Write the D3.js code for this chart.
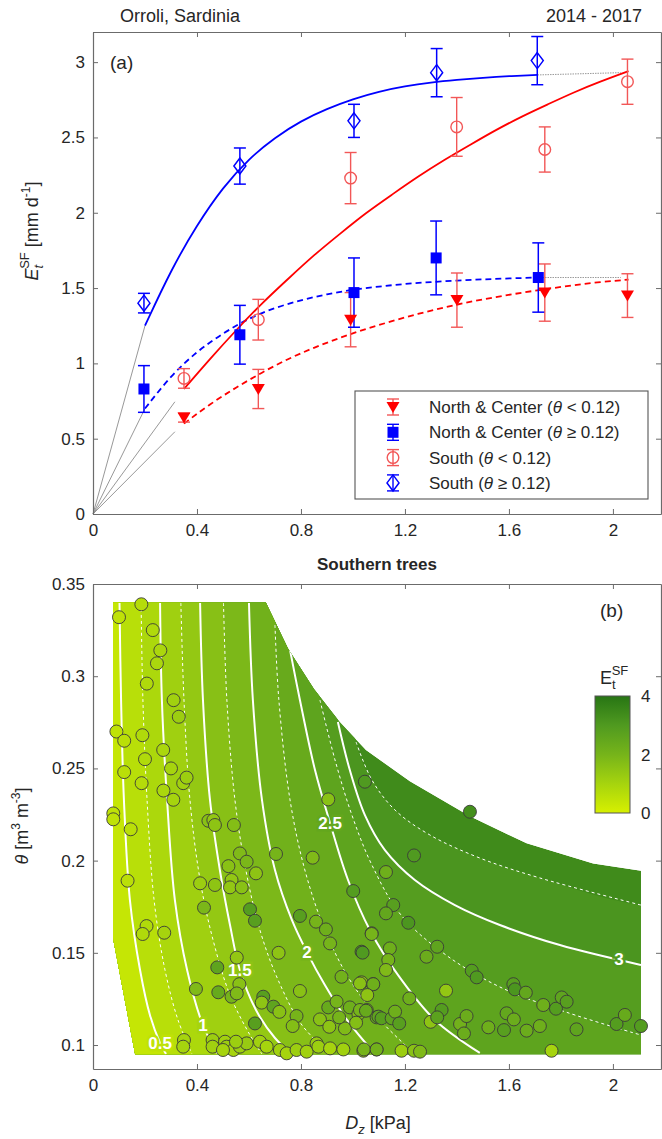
<!DOCTYPE html>
<html>
<head>
<meta charset="utf-8">
<script src="https://cdn.jsdelivr.net/npm/d3@7"></script>
<style>
body { margin: 0; background: #fff; }
svg text { font-family: "Liberation Sans", Arial, sans-serif; fill: #262626; }
</style>
</head>
<body>
<div id="chart"></div>
<script>
// ---------- panel (a): measured sap flow, Southern trees ----------
var ncLowD   = [0.35, 0.636, 0.991, 1.40, 1.738, 2.056];      // North & Center, theta < 0.12
var ncLowE   = [0.64, 0.83, 1.29, 1.42, 1.47, 1.45];
var ncLowErr = [0.03, 0.13, 0.18, 0.18, 0.19, 0.145];

var ncHighD   = [0.196, 0.565, 1.004, 1.32, 1.713];           // North & Center, theta >= 0.12
var ncHighE   = [0.83, 1.19, 1.47, 1.70, 1.57];
var ncHighErr = [0.155, 0.195, 0.23, 0.245, 0.23];

var soLowD   = [0.35, 0.636, 0.991, 1.399, 1.738, 2.056];     // South, theta < 0.12
var soLowE   = [0.90, 1.29, 2.23, 2.57, 2.42, 2.87];
var soLowErr = [0.065, 0.135, 0.17, 0.195, 0.15, 0.15];

var soHighD   = [0.196, 0.565, 1.004, 1.322, 1.709];          // South, theta >= 0.12
var soHighE   = [1.40, 2.31, 2.61, 2.93, 3.01];
var soHighErr = [0.065, 0.12, 0.11, 0.16, 0.16];

// fitted curves [D, E]
var fitSoHigh = [[0.2,1.25],[0.3,1.62],[0.4,1.92],[0.5,2.17],[0.6,2.36],[0.7,2.50],[0.8,2.61],[0.9,2.69],
  [1.0,2.755],[1.1,2.805],[1.2,2.84],[1.3,2.865],[1.4,2.882],[1.5,2.896],[1.6,2.907],[1.71,2.915]];
var fitNcHigh = [[0.2,0.70],[0.3,0.92],[0.4,1.08],[0.5,1.20],[0.6,1.30],[0.7,1.37],[0.8,1.42],[0.9,1.46],
  [1.0,1.49],[1.1,1.51],[1.2,1.528],[1.3,1.54],[1.4,1.55],[1.5,1.558],[1.6,1.564],[1.71,1.57]];
var fitSoLow = [[0.35,0.83],[0.45,1.03],[0.55,1.22],[0.65,1.40],[0.75,1.56],[0.85,1.72],[0.95,1.86],[1.05,2.00],
  [1.15,2.12],[1.25,2.24],[1.35,2.35],[1.45,2.45],[1.55,2.55],[1.65,2.64],[1.75,2.72],[1.85,2.80],[1.95,2.87],[2.06,2.94]];
var fitNcLow = [[0.35,0.60],[0.45,0.73],[0.55,0.84],[0.65,0.94],[0.75,1.03],[0.85,1.105],[0.95,1.17],[1.05,1.23],
  [1.15,1.28],[1.25,1.33],[1.35,1.37],[1.45,1.41],[1.55,1.44],[1.65,1.47],[1.75,1.495],[1.85,1.52],[1.95,1.54],[2.06,1.556]];
// grey extensions: from origin to the start of each fit, and flat tails
var originEnds = [[0.2,1.25],[0.2,0.70],[0.315,0.745],[0.315,0.546]];
var tailLines  = [[[1.71,2.915],[2.03,2.93]], [[1.71,1.57],[2.03,1.57]]];

var xTicks = [0, 0.4, 0.8, 1.2, 1.6, 2];
var xTickLabels = ["0", "0.4", "0.8", "1.2", "1.6", "2"];
var yTicksA = [0, 0.5, 1, 1.5, 2, 2.5, 3];
var yTickLabelsA = ["0", "0.5", "1", "1.5", "2", "2.5", "3"];

// ---------- panel (b): modelled E_t^SF field and observations ----------
var yTicksB = [0.1, 0.15, 0.2, 0.25, 0.3, 0.35];
var yTickLabelsB = ["0.1", "0.15", "0.2", "0.25", "0.3", "0.35"];
var cbTicks = [0, 2, 4];

var fieldEdge = [[0.077,0.34],[0.665,0.34],[0.75,0.315],[0.85,0.293],[0.95,0.275],[1.05,0.26],[1.219,0.243],
  [1.45,0.224],[1.668,0.2094],[1.924,0.1985],[2.108,0.1945],[2.108,0.095],[0.162,0.095],[0.077,0.158]];

// contour lines [D, theta], from the upper edge down to the bottom or right edge
var contourLevels = [0.5, 0.75, 1, 1.25, 1.5, 1.75, 2, 2.25, 2.5, 2.75, 3, 3.25];
var contourLines = [
  [[0.102,0.3397],[0.108,0.2871],[0.119,0.2329],[0.142,0.1786],[0.181,0.1407],[0.219,0.1163],[0.258,0.1011],[0.281,0.0951]],
  [[0.185,0.3397],[0.192,0.2871],[0.208,0.2329],[0.235,0.1786],[0.277,0.1407],[0.327,0.1136],[0.381,0.0951]],
  [[0.258,0.3397],[0.265,0.2871],[0.285,0.2329],[0.315,0.1786],[0.362,0.1407],[0.423,0.1108],[0.481,0.0951]],
  [[0.338,0.3397],[0.35,0.2871],[0.373,0.2329],[0.412,0.1895],[0.462,0.1569],[0.527,0.1271],[0.604,0.1054],[0.65,0.0951]],
  [[0.412,0.3397],[0.423,0.2871],[0.45,0.2329],[0.488,0.1949],[0.527,0.1651],[0.565,0.1407],[0.627,0.119],[0.70,0.1038],[0.765,0.0951]],
  [[0.502,0.3397],[0.515,0.2871],[0.546,0.2329],[0.588,0.1949],[0.642,0.1624],[0.712,0.1353],[0.804,0.1108],[0.912,0.0951]],
  [[0.60,0.3397],[0.615,0.2871],[0.65,0.2329],[0.70,0.1949],[0.765,0.1678],[0.823,0.1504],[0.892,0.1325],[0.977,0.1136],[1.085,0.0951]],
  [[0.70,0.3278],[0.715,0.2871],[0.758,0.2329],[0.815,0.1949],[0.892,0.1624],[0.988,0.1353],[1.104,0.1136],[1.238,0.0951]],
  [[0.758,0.3142],[0.796,0.2871],[0.854,0.2491],[0.912,0.2204],[0.981,0.1895],[1.065,0.1624],[1.173,0.138],[1.315,0.1136],[1.488,0.0957]],
  [[0.873,0.2871],[0.931,0.2546],[0.996,0.2247],[1.073,0.1976],[1.185,0.1705],[1.358,0.1488],[1.565,0.1315],[1.819,0.1179],[2.108,0.1054]],
  [[0.942,0.2752],[0.988,0.2491],[1.046,0.2247],[1.123,0.2057],[1.238,0.1895],[1.392,0.1759],[1.565,0.1651],[1.796,0.1542],[2.108,0.1434]],
  [[1.012,0.2643],[1.073,0.2437],[1.162,0.2274],[1.296,0.2139],[1.488,0.2014],[1.719,0.1906],[2.108,0.1759]]
];
var contourLabelText  = ["0.5", "1", "1.5", "2", "2.5", "3"];
var contourLabelLevel = [0.5, 1, 1.5, 2, 2.5, 3];
var contourLabelD     = [0.258, 0.423, 0.565, 0.823, 0.912, 2.023];
var contourLabelTheta = [0.1011, 0.1108, 0.1407, 0.1504, 0.2204, 0.1466];

var obsD = [0.187,0.271,0.309,0.347,0.078,0.078,0.145,0.444,0.463,0.469,0.542,0.905,1.046,0.565,0.591,0.521,0.627,0.704,0.845,
  0.133,0.412,0.469,0.533,0.527,0.572,1.001,0.427,0.604,0.623,0.796,0.858,0.896,0.912,1.072,1.033,0.206,0.191,0.274,0.714,
  0.553,0.478,0.956,0.563,1.033,1.078,0.396,0.482,0.533,0.553,0.655,0.649,0.694,0.717,0.796,0.783,0.768,0.873,0.905,0.909,
  0.937,0.969,0.947,0.988,1.021,1.012,1.053,1.091,0.623,0.35,0.347,0.46,0.508,0.514,0.54,0.565,0.591,0.642,0.668,0.719,
  0.745,0.783,0.822,0.86,0.867,0.912,0.963,1.04,1.091,0.46,0.50,0.55,
  1.45,1.235,1.127,1.155,1.127,1.213,1.072,1.037,1.142,1.136,1.127,1.283,1.324,1.027,1.078,1.055,1.217,1.358,1.457,1.476,
  1.617,1.623,1.665,1.732,1.781,1.803,1.822,1.027,1.05,1.098,1.11,1.149,1.162,1.178,1.299,1.341,1.324,1.412,1.437,1.427,
  1.521,1.591,1.581,1.619,1.668,1.719,1.86,2.014,2.046,2.108,1.042,1.091,1.187,1.235,1.258,1.764,
  0.1,0.186,0.23,0.259,0.246,0.207,0.09,0.12,0.19,0.2,0.31,0.33,0.27,0.3,0.36,0.12];
var obsTheta = [0.242,0.238,0.233,0.242,0.2256,0.2224,0.217,0.2216,0.222,0.2193,0.2193,0.2332,0.2428,0.2039,0.1994,0.197,0.1931,0.2036,0.2016,
  0.1891,0.1877,0.1868,0.1895,0.1855,0.1855,0.1835,0.1745,0.1736,0.1674,0.17,0.1669,0.1627,0.1551,0.1606,0.1506,0.1645,0.1602,0.1609,0.15,
  0.1474,0.1421,0.137,0.133,0.134,0.133,0.1304,0.1286,0.1262,0.128,0.1262,0.123,0.1208,0.118,0.1293,0.1157,0.1103,0.1139,0.1204,0.1099,
  0.1235,0.109,0.115,0.1204,0.1168,0.1121,0.119,0.115,0.1117,0.1027,0.0991,0.1027,0.1018,0.0991,0.0973,0.0991,0.1009,0.1018,0.0991,0.0973,
  0.0955,0.0973,0.0964,0.1009,0.0991,0.0982,0.0976,0.0969,0.0976,0.0991,0.0973,0.1018,
  0.2265,0.2028,0.1938,0.1759,0.1714,0.1663,0.1602,0.1501,0.1524,0.1461,0.1407,0.1479,0.1533,0.1334,0.133,0.1271,0.1253,0.1295,0.1403,0.1367,
  0.133,0.1302,0.1284,0.1217,0.1197,0.1258,0.1235,0.119,0.1186,0.1154,0.1145,0.1145,0.1181,0.1117,0.1126,0.119,0.115,0.1114,0.1157,0.1063,
  0.1096,0.1172,0.1081,0.1139,0.1078,0.1103,0.1085,0.1114,0.1163,0.1103,0.0976,0.0976,0.0969,0.0969,0.0964,0.0969,
  0.332,0.339,0.325,0.314,0.307,0.296,0.27,0.265,0.268,0.255,0.287,0.278,0.26,0.25,0.245,0.248];
var obsEt = [0.7,0.9,1.0,1.1,0.5,0.5,0.6,1.6,1.4,1.5,1.7,1.6,3.0,1.8,1.9,1.6,1.5,2.0,1.8,
  0.6,1.2,1.5,1.4,1.4,1.6,2.9,1.9,2.9,2.8,2.8,2.0,2.2,2.0,2.0,2.9,0.8,0.8,1.0,1.5,
  1.4,2.6,2.1,1.6,1.5,2.2,1.8,2.4,2.0,1.8,2.8,1.5,2.6,1.6,1.6,2.0,1.7,1.6,2.4,1.5,
  2.0,1.8,2.0,2.2,1.8,1.7,2.0,2.4,2.8,1.0,1.0,1.2,1.1,1.2,1.0,1.2,1.3,1.1,1.0,1.1,
  1.0,1.2,1.1,1.3,1.2,1.0,1.1,1.4,1.5,1.1,1.0,1.2,
  3.3,3.0,2.2,2.8,2.5,3.1,2.0,3.0,2.2,2.0,1.8,2.3,2.6,1.6,2.2,1.5,2.2,1.4,2.9,3.0,
  2.8,3.1,2.5,2.2,2.9,2.6,2.8,2.0,2.4,2.6,2.8,2.6,2.2,2.8,1.5,2.9,2.7,2.1,2.3,2.3,
  2.2,2.5,2.8,2.3,2.3,2.2,2.6,2.9,2.4,2.9,2.0,2.1,1.2,1.6,1.8,1.0,
  0.5,0.7,0.8,0.9,0.9,0.8,0.5,0.6,0.8,0.8,1.1,1.2,0.9,1.0,1.2,0.6];

// ---------- drawing ----------
var W = 662, H = 1139;
var svg = d3.select("#chart").append("svg").attr("width", W).attr("height", H);

var RED = "#ff0000", RED_LIGHT = "#f25757", BLUE = "#0000ff", AXIS = "#6b6b6b";

var xA = d3.scaleLinear().domain([0, 2.185]).range([93, 661]);
var yA = d3.scaleLinear().domain([0, 3.2]).range([514, 32]);
var xB = d3.scaleLinear().domain([0, 2.185]).range([93, 661]);
var yB = d3.scaleLinear().domain([0.087, 0.35]).range([1069, 584]);

function drawFrame(g, xs, ys, yT, yL, yPad) {
  var x0 = xs.range()[0], x1 = xs.range()[1], yb = ys.range()[0], yt = ys.range()[1];
  g.append("g").attr("transform", "translate(0," + yb + ")")
    .call(d3.axisBottom(xs).tickValues(xTicks).tickSizeInner(-5).tickSizeOuter(0).tickPadding(10)
      .tickFormat(function (d, i) { return xTickLabels[i]; }));
  g.append("g").attr("transform", "translate(0," + yt + ")")
    .call(d3.axisTop(xs).tickValues(xTicks).tickSizeInner(-5).tickSizeOuter(0).tickFormat(""));
  g.append("g").attr("transform", "translate(" + x0 + ",0)")
    .call(d3.axisLeft(ys).tickValues(yT).tickSizeInner(-5).tickSizeOuter(0).tickPadding(yPad)
      .tickFormat(function (d, i) { return yL[i]; }));
  g.append("g").attr("transform", "translate(" + x1 + ",0)")
    .call(d3.axisRight(ys).tickValues(yT).tickSizeInner(-5).tickSizeOuter(0).tickFormat(""));
  g.selectAll(".domain").attr("stroke", AXIS).attr("stroke-width", 1.2);
  g.selectAll(".tick line").attr("stroke", AXIS).attr("stroke-width", 1);
  g.selectAll(".tick text").attr("font-size", 17).attr("fill", "#262626")
    .attr("font-family", "Liberation Sans, Arial, sans-serif");
}

// ===== panel (a) =====
var gA = svg.append("g");

svg.append("text").attr("x", 120).attr("y", 22).attr("font-size", 18).text("Orroli, Sardinia");
svg.append("text").attr("x", 642).attr("y", 22).attr("font-size", 18).attr("text-anchor", "end").text("2014 - 2017");

var lineA = d3.line().x(function (d) { return xA(d[0]); }).y(function (d) { return yA(d[1]); });

// grey helper lines
originEnds.forEach(function (p) {
  gA.append("path").attr("d", lineA([[0, 0], p])).attr("fill", "none").attr("stroke", "#8c8c8c").attr("stroke-width", 0.9);
});
tailLines.forEach(function (t) {
  gA.append("path").attr("d", lineA(t)).attr("fill", "none").attr("stroke", "#9a9a9a").attr("stroke-width", 1)
    .attr("stroke-dasharray", "1.5,1");
});

var smooth = d3.line().curve(d3.curveBasis).x(function (d) { return xA(d[0]); }).y(function (d) { return yA(d[1]); });
gA.append("path").attr("d", smooth(fitSoHigh)).attr("fill", "none").attr("stroke", BLUE).attr("stroke-width", 1.8);
gA.append("path").attr("d", smooth(fitNcHigh)).attr("fill", "none").attr("stroke", BLUE).attr("stroke-width", 1.8).attr("stroke-dasharray", "6,4");
gA.append("path").attr("d", smooth(fitSoLow)).attr("fill", "none").attr("stroke", RED).attr("stroke-width", 1.8);
gA.append("path").attr("d", smooth(fitNcLow)).attr("fill", "none").attr("stroke", RED).attr("stroke-width", 1.8).attr("stroke-dasharray", "6,4");

function errorBars(g, xs, ys, xv, yv, ev, color, width) {
  xv.forEach(function (x, i) {
    var cx = xs(x), ylo = ys(yv[i] - ev[i]), yhi = ys(yv[i] + ev[i]);
    g.append("line").attr("x1", cx).attr("x2", cx).attr("y1", ylo).attr("y2", yhi).attr("stroke", color).attr("stroke-width", width);
    [ylo, yhi].forEach(function (yy) {
      g.append("line").attr("x1", cx - 6).attr("x2", cx + 6).attr("y1", yy).attr("y2", yy).attr("stroke", color).attr("stroke-width", width);
    });
  });
}

var triDown = "M-6.5,-5L6.5,-5L0,6Z";
var diamond = "M0,-8L6,0L0,8L-6,0Z";

function marker(g, kind, cx, cy) {
  if (kind === "tri") g.append("path").attr("d", triDown).attr("transform", "translate(" + cx + "," + cy + ")").attr("fill", RED);
  if (kind === "sq") g.append("rect").attr("x", cx - 5.5).attr("y", cy - 5.5).attr("width", 11).attr("height", 11).attr("fill", BLUE);
  if (kind === "circ") g.append("circle").attr("cx", cx).attr("cy", cy).attr("r", 5.8).attr("fill", "none").attr("stroke", RED_LIGHT).attr("stroke-width", 1.4);
  if (kind === "dia") g.append("path").attr("d", diamond).attr("transform", "translate(" + cx + "," + cy + ")").attr("fill", "none").attr("stroke", BLUE).attr("stroke-width", 1.5);
}

errorBars(gA, xA, yA, soLowD, soLowE, soLowErr, RED_LIGHT, 1.4);
errorBars(gA, xA, yA, ncLowD, ncLowE, ncLowErr, RED_LIGHT, 1.4);
errorBars(gA, xA, yA, ncHighD, ncHighE, ncHighErr, BLUE, 1.5);
errorBars(gA, xA, yA, soHighD, soHighE, soHighErr, BLUE, 1.5);
soLowD.forEach(function (x, i) { marker(gA, "circ", xA(x), yA(soLowE[i])); });
ncLowD.forEach(function (x, i) { marker(gA, "tri", xA(x), yA(ncLowE[i])); });
ncHighD.forEach(function (x, i) { marker(gA, "sq", xA(x), yA(ncHighE[i])); });
soHighD.forEach(function (x, i) { marker(gA, "dia", xA(x), yA(soHighE[i])); });

drawFrame(gA, xA, yA, yTicksA, yTickLabelsA, 8);

gA.append("text").attr("x", 110).attr("y", 69).attr("font-size", 19).text("(a)");

// y label (a)
var yLabA = gA.append("text").attr("transform", "translate(38,231) rotate(-90)").attr("text-anchor", "middle").attr("font-size", 18);
yLabA.append("tspan").attr("font-style", "italic").text("E");
yLabA.append("tspan").attr("font-style", "italic").attr("font-size", 13).attr("dy", 5).text("t");
yLabA.append("tspan").attr("font-size", 13).attr("dy", -14).attr("dx", -4).text("SF");
yLabA.append("tspan").attr("dy", 9).text("  [mm d");
yLabA.append("tspan").attr("font-size", 12).attr("dy", -8).text("-1");
yLabA.append("tspan").attr("dy", 8).text("]");

gA.append("text").attr("x", 377).attr("y", 570).attr("text-anchor", "middle").attr("font-size", 17)
  .attr("font-weight", "bold").text("Southern trees");

// legend
var legend = gA.append("g");
legend.append("rect").attr("x", 355).attr("y", 391).attr("width", 293).attr("height", 108)
  .attr("fill", "#fff").attr("stroke", "#555").attr("stroke-width", 1.1);
var legKinds = ["tri", "sq", "circ", "dia"];
var legColors = [RED_LIGHT, BLUE, RED_LIGHT, BLUE];
var legLabels = [["North & Center (", " < 0.12)"], ["North & Center (", " \u2265 0.12)"], ["South (", " < 0.12)"], ["South (", " \u2265 0.12)"]];
legKinds.forEach(function (k, i) {
  var cy = 407 + i * 25.3;
  errorBars(legend, d3.scaleIdentity(), d3.scaleIdentity(), [393], [cy], [8], legColors[i], 1.4);
  marker(legend, k, 393, cy);
  var t = legend.append("text").attr("x", 429).attr("y", cy + 6).attr("font-size", 17);
  t.append("tspan").text(legLabels[i][0]);
  t.append("tspan").attr("font-style", "italic").text("\u03b8");
  t.append("tspan").text(legLabels[i][1]);
});

// ===== panel (b) =====
var gB = svg.append("g");
var color = d3.scaleLinear().domain([0, 1, 2, 3, 4]).range(["#d7f000", "#a6d40e", "#76b41a", "#509a20", "#277514"]);

var lineB = d3.line().x(function (d) { return xB(d[0]); }).y(function (d) { return yB(d[1]); });
var smoothB = d3.line().curve(d3.curveCatmullRom).x(function (d) { return xB(d[0]); }).y(function (d) { return yB(d[1]); });

svg.append("clipPath").attr("id", "field").append("path").attr("d", lineB(fieldEdge) + "Z");
var fieldG = gB.append("g").attr("clip-path", "url(#field)");

// top band first, then each lower band painted over it (low side of each contour)
fieldG.append("path").attr("d", lineB(fieldEdge) + "Z").attr("fill", color(3.4));
for (var i = contourLevels.length - 1; i >= 0; i--) {
  var pts = contourLines[i];
  var first = pts[0], last = pts[pts.length - 1];
  var head = [[first[0] - 0.02, 0.42], [first[0], 0.36]];
  var tail = last[0] > 2.0 ? [[2.6, last[1]], [2.6, 0.05]] : [[last[0] + 0.02, 0.08], [last[0], 0.05]];
  var body = smoothB(head.concat(pts, tail));
  var closing = lineB([[-0.3, 0.05], [-0.3, 0.42]]).replace("M", "L");
  fieldG.append("path").attr("d", body + closing + "Z").attr("fill", color(contourLevels[i] - 0.125));
}
contourLines.forEach(function (pts, i) {
  var major = contourLevels[i] % 0.5 === 0;
  fieldG.append("path").attr("d", smoothB(pts)).attr("fill", "none").attr("stroke", "#fff")
    .attr("stroke-width", major ? 2 : 1).attr("stroke-dasharray", major ? null : "3,3");
});
contourLabelText.forEach(function (t, i) {
  gB.append("text").attr("x", xB(contourLabelD[i])).attr("y", yB(contourLabelTheta[i]) + 6)
    .attr("text-anchor", "middle").attr("font-size", 17).attr("font-weight", "bold")
    .style("fill", "#fff").style("stroke", color(contourLabelLevel[i])).style("stroke-width", 5)
    .style("paint-order", "stroke").text(t);
});

obsD.forEach(function (d, i) {
  gB.append("circle").attr("cx", xB(d)).attr("cy", yB(obsTheta[i])).attr("r", 6.5)
    .attr("fill", color(obsEt[i])).attr("stroke", "#3a3a3a").attr("stroke-width", 0.9);
});

drawFrame(gB, xB, yB, yTicksB, yTickLabelsB, 8);

gB.append("text").attr("x", 600).attr("y", 617).attr("font-size", 19).text("(b)");

// colour bar
var cb = gB.append("g");
var cbY = d3.scaleLinear().domain([0, 4]).range([813, 696]);
var grad = svg.append("defs").append("linearGradient").attr("id", "cbgrad").attr("x1", 0).attr("y1", 1).attr("x2", 0).attr("y2", 0);
[0, 1, 2, 3, 4].forEach(function (v) {
  grad.append("stop").attr("offset", v / 4).attr("stop-color", color(v));
});
cb.append("rect").attr("x", 595).attr("y", cbY(4)).attr("width", 35).attr("height", cbY(0) - cbY(4))
  .attr("fill", "url(#cbgrad)").attr("stroke", "#555").attr("stroke-width", 1);
cbTicks.forEach(function (v) {
  cb.append("text").attr("x", 641).attr("y", cbY(v) + 6).attr("font-size", 17).text(v);
});
var cbT = cb.append("text").attr("x", 600).attr("y", 684).attr("font-size", 18);
cbT.append("tspan").text("E");
cbT.append("tspan").attr("font-size", 13).attr("dy", 5).text("t");
cbT.append("tspan").attr("font-size", 13).attr("dy", -14).attr("dx", -4).text("SF");

// axis labels (b)
var yLabB = gB.append("text").attr("transform", "translate(28,826) rotate(-90)").attr("text-anchor", "middle").attr("font-size", 18);
yLabB.append("tspan").attr("font-style", "italic").text("\u03b8");
yLabB.append("tspan").text("  [m");
yLabB.append("tspan").attr("font-size", 12).attr("dy", -8).text("3");
yLabB.append("tspan").attr("dy", 8).text(" m");
yLabB.append("tspan").attr("font-size", 12).attr("dy", -8).text("-3");
yLabB.append("tspan").attr("dy", 8).text("]");

var xLabB = gB.append("text").attr("x", 378).attr("y", 1129).attr("text-anchor", "middle").attr("font-size", 18);
xLabB.append("tspan").attr("font-style", "italic").text("D");
xLabB.append("tspan").attr("font-style", "italic").attr("font-size", 13).attr("dy", 5).text("z");
xLabB.append("tspan").attr("dy", -5).text("  [kPa]");
</script>
</body>
</html>
